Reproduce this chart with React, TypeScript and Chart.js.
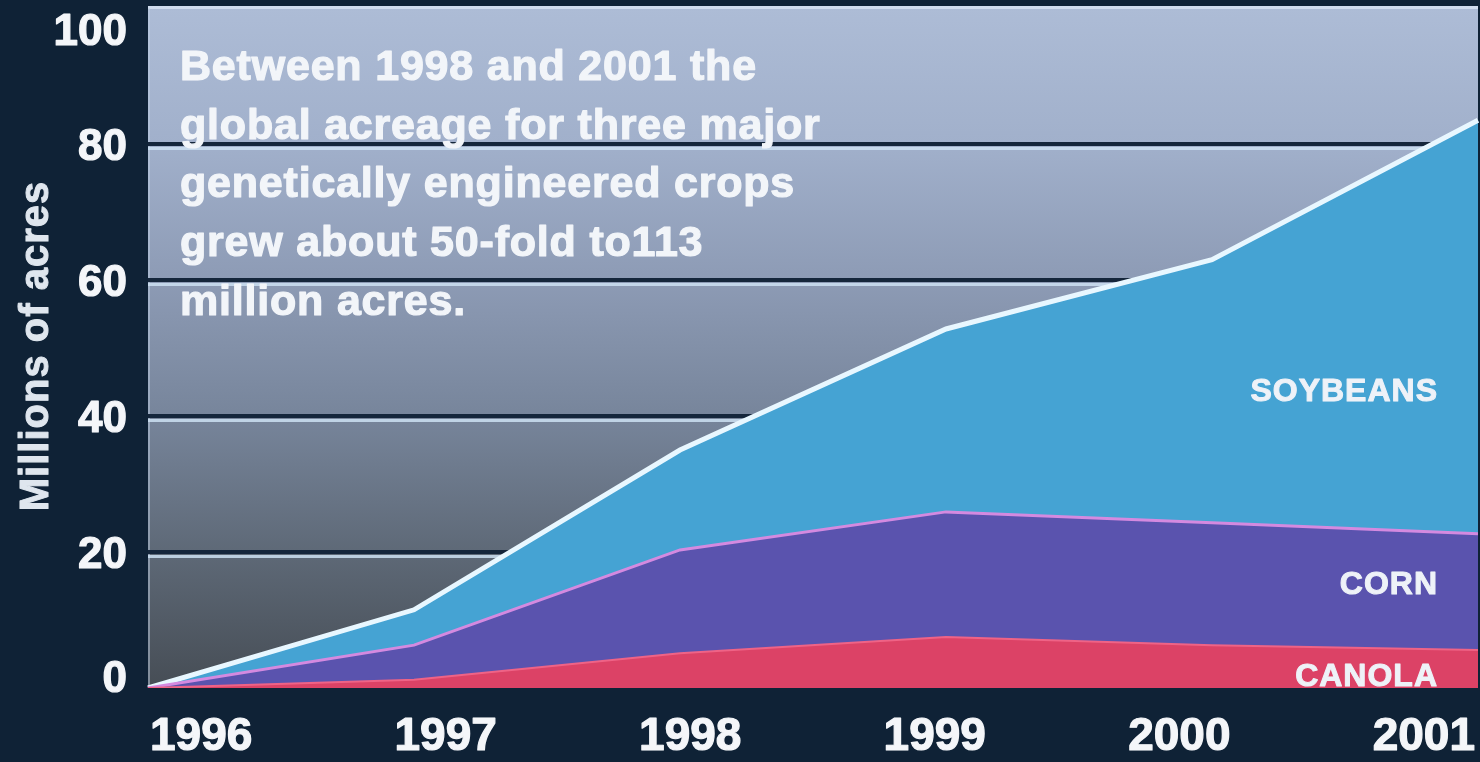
import React, { useEffect, useRef } from "react";
import { Chart, registerables } from "chart.js";

Chart.register(...registerables);

// ---- data ----
const years = ["1996", "1997", "1998", "1999", "2000", "2001"];
const canola = [0, 1.2, 5.1, 7.5, 6.3, 5.6];
const corn = [0, 5.1, 15.2, 18.4, 18.0, 17.1];
const soybeans = [0, 5.2, 14.7, 26.9, 38.7, 60.8];
const yTicks = [0, 20, 40, 60, 80, 100];
const seriesNames = ["CANOLA", "CORN", "SOYBEANS"];
const yTitle = "Millions of acres";
const noteLines = [
  "Between 1998 and 2001 the",
  "global acreage for three major",
  "genetically engineered crops",
  "grew about 50-fold to113",
  "million acres.",
];

const NAVY = "#0f2236";
const FONT = '"Liberation Sans", Arial, Helvetica, sans-serif';

function heavyText(ctx: any, t: string, x: number, y: number, w: number) {
  ctx.lineWidth = w;
  ctx.lineJoin = "round";
  ctx.strokeStyle = ctx.fillStyle;
  ctx.strokeText(t, x, y);
  ctx.fillText(t, x, y);
}

const decor = {
  id: "decor",
  beforeDraw(chart: any) {
    const { ctx, chartArea: a, width, height } = chart;
    ctx.save();
    ctx.fillStyle = NAVY;
    ctx.fillRect(0, 0, width, height);
    const g = ctx.createLinearGradient(0, a.top, 0, a.bottom);
    g.addColorStop(0, "#adbcd6");
    g.addColorStop(0.2, "#a1b0cb");
    g.addColorStop(0.4, "#8d9bb5");
    g.addColorStop(0.6, "#77859b");
    g.addColorStop(0.8, "#5e6977");
    g.addColorStop(1, "#464d55");
    ctx.fillStyle = g;
    ctx.fillRect(a.left, a.top, a.right - a.left, a.bottom - a.top);
    ctx.fillStyle = "#d0dcee";
    ctx.fillRect(a.left, a.top - 2, a.right - a.left, 3);
    ctx.fillStyle = "rgba(190,205,225,0.5)";
    ctx.fillRect(a.left, a.top, 2, a.bottom - a.top);
    const ys = chart.scales.y;
    for (const v of yTicks) {
      if (v <= 0 || v >= 100) continue;
      const p = ys.getPixelForValue(v);
      ctx.fillStyle = "#15263b";
      ctx.fillRect(a.left, p - 2, a.right - a.left, 4);
      ctx.fillStyle = "rgba(205,225,242,0.85)";
      ctx.fillRect(a.left, p + 3, a.right - a.left, 3);
    }
    ctx.restore();
  },
  afterDatasetsDraw(chart: any) {
    const { ctx, chartArea: a } = chart;
    const ys = chart.scales.y;
    ctx.save();
    // annotation
    ctx.fillStyle = "#f2f5f9";
    ctx.font = `bold 43px ${FONT}`;
    (ctx as any).letterSpacing = "0.8px";
    ctx.textAlign = "left";
    ctx.textBaseline = "middle";
    noteLines.forEach((t, i) => heavyText(ctx, t, 180, 68 + i * 58.7, 1.2));
    // series labels
    ctx.font = `bold 32px ${FONT}`;
    (ctx as any).letterSpacing = "1px";
    ctx.textAlign = "right";
    ctx.fillStyle = "#eef2f8";
    const labelVals = [1.6, 15.1, 43.5];
    seriesNames.forEach((n, i) => heavyText(ctx, n, a.right - 40, ys.getPixelForValue(labelVals[i]), 1));
    ctx.restore();
  },
  afterDraw(chart: any) {
    const { ctx, chartArea: a } = chart;
    const ys = chart.scales.y;
    ctx.save();
    // y ticks
    ctx.fillStyle = "#f4f6f9";
    ctx.font = `bold 44px ${FONT}`;
    ctx.textAlign = "right";
    ctx.textBaseline = "middle";
    for (const v of yTicks) {
      let p = ys.getPixelForValue(v);
      p = Math.min(Math.max(p + 4, a.top + 25), a.bottom - 8);
      heavyText(ctx, String(v), a.left - 21, p, 1.2);
    }
    // x labels
    ctx.font = `bold 46px ${FONT}`;
    ctx.textAlign = "center";
    const w0 = ctx.measureText(years[0]).width;
    const wn = ctx.measureText(years[years.length - 1]).width;
    const c0 = a.left + 2 + w0 / 2;
    const cn = a.right - 3 - wn / 2;
    years.forEach((yr, i) => {
      const x = c0 + ((cn - c0) * i) / (years.length - 1);
      heavyText(ctx, yr, x, a.bottom + 49, 1.2);
    });
    // y title
    ctx.translate(37, 346);
    ctx.rotate(-Math.PI / 2);
    ctx.font = `bold 40px ${FONT}`;
    (ctx as any).letterSpacing = "1px";
    ctx.fillStyle = "#dfe6ee";
    heavyText(ctx, yTitle, 0, 0, 1);
    ctx.restore();
  },
};

export default function App() {
  const ref = useRef<HTMLCanvasElement | null>(null);
  useEffect(() => {
    if (!ref.current) return;
    const chart = new Chart(ref.current, {
      type: "line",
      data: {
        labels: years,
        datasets: [
          {
            label: seriesNames[0],
            data: canola,
            fill: "origin",
            backgroundColor: "#dc4266",
            borderColor: "#ef6386",
            borderWidth: 2,
            pointRadius: 0,
            tension: 0,
          },
          {
            label: seriesNames[1],
            data: corn,
            fill: "-1",
            backgroundColor: "#5a53ae",
            borderColor: "#d48ae0",
            borderWidth: 3,
            pointRadius: 0,
            tension: 0,
          },
          {
            label: seriesNames[2],
            data: soybeans,
            fill: "-1",
            backgroundColor: "#45a3d3",
            borderColor: "#e8f7ff",
            borderWidth: 5,
            pointRadius: 0,
            tension: 0,
          },
        ],
      },
      options: {
        animation: false,
        responsive: false,
        maintainAspectRatio: false,
        layout: { padding: { top: 8, right: 2, left: 0, bottom: 0 } },
        plugins: { legend: { display: false }, tooltip: { enabled: false } },
        scales: {
          x: {
            type: "category",
            offset: false,
            grid: { display: false },
            border: { display: false },
            ticks: { display: false },
            afterFit(s: any) {
              s.height = 74;
            },
          },
          y: {
            stacked: true,
            min: 0,
            max: 100,
            grid: { display: false },
            border: { display: false },
            ticks: { display: false, stepSize: 20 },
            afterFit(s: any) {
              s.width = 148;
            },
          },
        },
      } as any,
      plugins: [decor],
    });
    return () => chart.destroy();
  }, []);
  return (
    <div style={{ position: "fixed", left: 0, top: 0, width: 1480, height: 762, background: NAVY }}>
      <canvas ref={ref} width={1480} height={762} style={{ display: "block", width: 1480, height: 762 }} />
    </div>
  );
}
